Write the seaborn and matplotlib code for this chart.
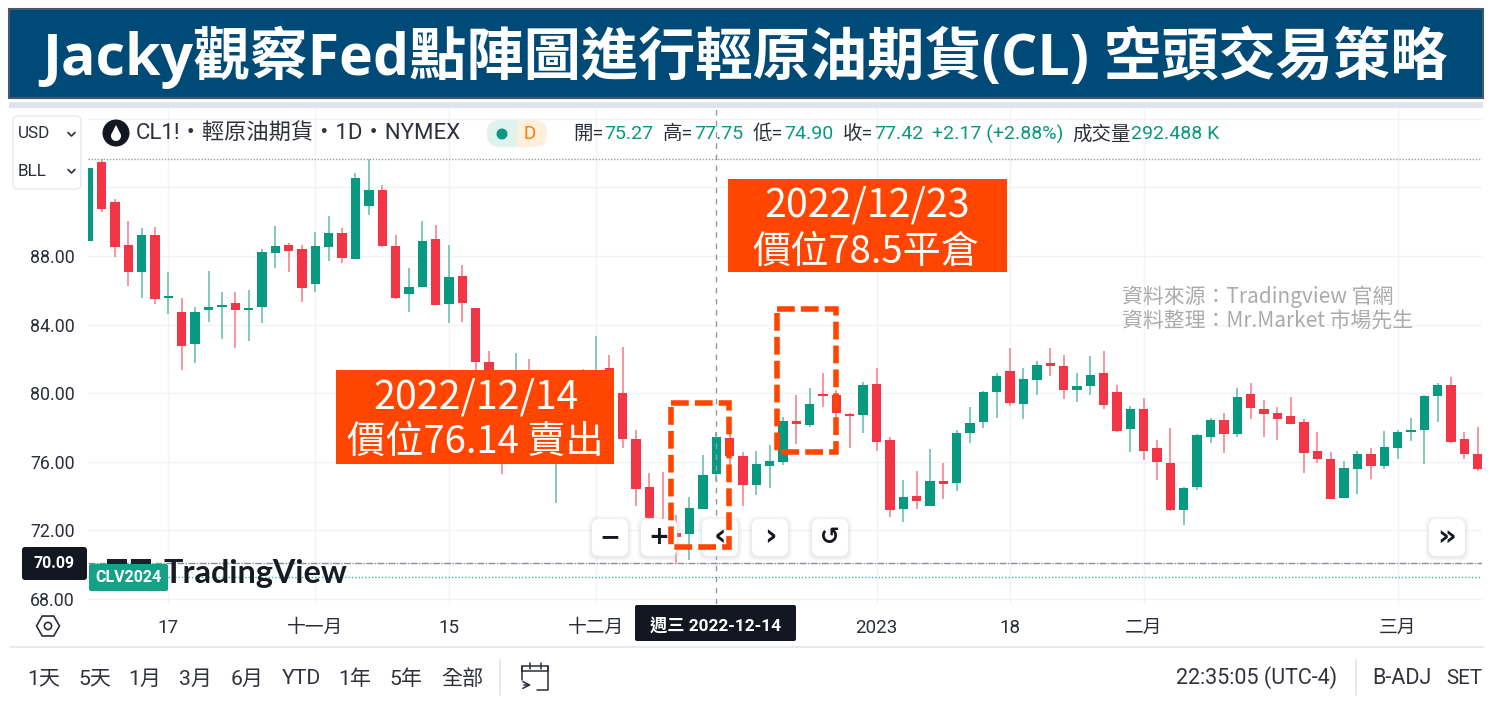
import matplotlib
matplotlib.use("Agg")
import matplotlib.pyplot as plt
from matplotlib.patches import Rectangle, FancyBboxPatch, Circle, RegularPolygon, Polygon
import numpy as np
import pandas as pd
import seaborn as sns

opens = [88.90,93.45,91.13,88.63,87.05,89.23,85.57,84.76,82.89,84.85,85.03,85.24,84.85,85.03,88.18,88.63,88.39,86.39,88.53,89.33,87.81,
         90.92,91.83,88.57,85.81,86.22,88.98,85.20,86.84,84.95,81.84,80.50,78.50,80.60,80.30,77.00,78.70,79.80,80.00,81.49,80.01,77.33,
         74.53,72.60,71.83,71.77,73.25,75.27,77.39,76.32,74.63,75.76,76.00,78.40,78.13,79.90,79.88,78.79,78.73,80.54,77.27,73.25,74.00,
         73.42,74.88,74.74,77.66,78.30,80.09,81.31,79.37,80.79,81.78,81.60,80.20,80.44,81.20,80.05,77.89,79.06,76.79,75.91,73.19,74.55,
         77.46,78.46,77.64,79.93,79.06,78.83,78.69,78.32,76.61,76.14,73.89,75.58,76.43,75.75,76.82,77.72,77.84,79.86,80.48,77.31,76.47]
highs = [93.15,93.64,91.30,90.04,89.64,89.70,87.07,85.54,85.01,87.13,85.88,85.88,86.00,88.39,89.75,88.74,88.63,89.40,90.34,89.62,92.82,
         93.68,92.12,89.21,87.30,90.04,89.81,88.63,87.50,84.95,82.44,81.10,82.32,81.97,81.00,81.10,81.00,81.39,83.34,82.23,82.68,77.86,
         75.37,75.43,72.90,73.97,76.40,77.75,77.66,76.55,76.63,76.98,78.63,79.88,80.31,81.20,80.20,78.83,80.67,81.49,77.43,74.94,75.48,
         76.73,75.91,77.85,79.18,80.13,81.20,82.62,81.49,81.90,82.62,82.21,81.20,82.15,82.46,80.48,79.23,79.70,77.27,77.99,74.51,77.60,
         78.57,78.83,80.28,80.61,79.58,79.18,79.76,78.51,77.74,76.57,76.03,76.61,76.80,77.81,77.85,78.57,79.87,80.61,80.96,77.74,78.05]
lows = [88.90,90.55,87.93,86.27,85.55,85.20,84.60,81.34,81.75,84.17,83.18,82.64,83.07,84.12,87.32,87.09,85.32,85.90,87.69,87.58,87.81,
        90.36,88.53,85.52,84.74,86.22,85.15,84.08,84.17,81.35,80.30,75.27,78.00,78.50,77.60,73.62,77.90,79.00,79.40,79.60,76.81,73.42,
        72.00,71.50,70.09,70.28,73.25,74.90,75.80,73.42,74.07,74.49,75.80,77.04,78.01,79.18,77.76,76.81,77.66,76.63,72.76,72.47,73.25,
        73.42,73.85,74.32,77.12,77.99,78.53,79.25,78.48,79.90,81.02,79.66,79.49,79.90,79.08,77.72,76.57,76.10,74.96,73.15,72.29,74.38,
        77.11,76.51,77.46,78.48,77.46,77.29,78.19,75.33,75.91,73.83,73.87,74.14,75.00,75.56,76.16,77.23,75.85,78.34,77.11,76.16,75.44]
closes = [93.15,90.74,88.55,87.05,89.23,85.50,85.65,82.78,84.76,85.01,85.13,84.85,84.95,88.22,88.57,88.30,86.16,88.57,89.33,87.89,92.53,
          91.83,88.59,85.55,86.20,88.86,85.15,86.78,85.28,81.82,80.60,78.60,80.50,79.00,78.20,78.80,80.40,81.00,81.35,80.00,77.35,74.43,
          72.70,71.90,71.60,73.29,75.25,77.42,76.34,74.63,75.85,76.03,78.40,78.19,79.35,79.82,78.85,78.65,80.48,77.18,73.19,73.93,73.73,
          74.88,74.69,77.68,78.26,80.05,81.00,79.43,80.83,81.66,81.59,80.20,80.42,81.06,79.31,77.78,79.06,76.65,75.99,73.19,74.47,77.56,
          78.46,77.64,79.76,79.14,78.77,78.48,78.22,76.51,76.16,73.83,75.66,76.43,75.75,76.84,77.74,77.85,79.84,80.48,77.17,76.47,75.58]

y_ticks = [68, 72, 76, 80, 84, 88, 92, 96]
y_labels = ["68.00", "72.00", "76.00", "80.00", "84.00", "88.00", "", ""]
x_ticks = [6, 17, 27, 38, 59, 69, 79, 98]
x_labels = ["17", "十一月", "15", "十二月", "2023", "18", "二月", "三月"]
last_high, last_low, clv_price = 93.65, 70.09, 69.29
crosshair_index = 47
range_buttons = ["1天", "5天", "1月", "3月", "6月", "YTD", "1年", "5年", "全部"]

sns.set_theme(style="white")
LATIN = ["Roboto", "Noto Sans CJK TC", "DejaVu Sans"]
CJK = ["Noto Sans CJK TC", "DejaVu Sans"]
plt.rcParams["font.family"] = LATIN

RED, GREEN = "#f23645", "#089981"
RED_W, GREEN_W = "#f5808b", "#66bfae"
ORANGE = "#ff4500"
INK = "#2a2e39"

df = pd.DataFrame({"i": np.arange(len(opens)), "o": opens, "h": highs, "l": lows, "c": closes})
df["up"] = df.c >= df.o
df["bot"] = df[["o", "c"]].min(axis=1)
df["size"] = (df.c - df.o).abs().clip(lower=0.12)

fig = plt.figure(figsize=(14.9, 7.07), dpi=100, facecolor="white")
ax = fig.add_axes([88 / 1490, (707 - 604) / 707, 1394 / 1490, 500 / 707])

# wicks
for up, wc in ((True, GREEN_W), (False, RED_W)):
    s = df[df.up == up]
    ax.vlines(s.i, s.l, s.h, color=wc, lw=1.15, zorder=2)
# bodies
for up, col in ((True, GREEN), (False, RED)):
    s = df[df.up == up].sort_values("i")
    sns.barplot(data=s, x="i", y="size", native_scale=True, color=col, saturation=1,
                width=0.7, gap=0, errorbar=None, bottom=s["bot"].values, ax=ax,
                linewidth=0, zorder=3)

ax.set_xlim(-0.02, 104.32)
ax.set_ylim(67.71, 96.86)
ax.set_xticks(x_ticks, x_labels)
ax.set_yticks(y_ticks, y_labels)
ax.set_xlabel("")
ax.set_ylabel("")
ax.grid(True, color="#f2f3f6", lw=1)
ax.set_axisbelow(True)
ax.tick_params(axis="y", length=0, pad=9.5, labelsize=12.8, labelcolor=INK)
ax.tick_params(axis="x", length=0, pad=11, labelsize=13.5, labelcolor=INK)
for lb in ax.get_xticklabels() + ax.get_yticklabels():
    lb.set_family(LATIN)
sns.despine(ax=ax, left=True, bottom=True)

ax.axhline(last_high, color="#9a9ea8", lw=1, ls=(0, (1, 1.2)), zorder=1)
ax.axhline(last_low, color="#8a8e98", lw=1, ls=(0, (5, 1, 1, 1)), zorder=1)
ax.axhline(clv_price, color=GREEN, lw=1, ls=(0, (1, 1.4)), alpha=.75, zorder=1)
ax.axvline(crosshair_index, color="#9598a1", lw=1, ls=(0, (4, 4)), zorder=4)

# overlay in pixel space for page furniture
ov = fig.add_axes([0, 0, 1, 1], facecolor="none")
ov.set_xlim(0, 1490)
ov.set_ylim(707, 0)
ov.axis("off")


def T(x, y, s, size=12, color=INK, ha="left", weight="normal", fam=LATIN, **kw):
    return ov.text(x, y, s, fontsize=size, color=color, ha=ha, va="center", weight=weight, family=fam, **kw)


def box(x0, y0, x1, y1, fc, ec="none", lw=0, r=0, z=2, alpha=None):
    if r:
        p = FancyBboxPatch((x0 + r, y0 + r), x1 - x0 - 2 * r, y1 - y0 - 2 * r,
                           boxstyle=f"round,pad={r},rounding_size={r}", fc=fc, ec=ec, lw=lw, zorder=z, alpha=alpha)
    else:
        p = Rectangle((x0, y0), x1 - x0, y1 - y0, fc=fc, ec=ec, lw=lw, zorder=z, alpha=alpha)
    ov.add_patch(p)
    return p


# banner
box(9, 9, 1483, 98, "#004a77", ec="#46586e", lw=1.5, z=5)
box(9, 102, 1483, 108, "#e0e3eb", z=1)
T(745, 57, "Jacky觀察Fed點陣圖進行輕原油期貨(CL) 空頭交易策略", size=41.2, color="white", ha="center",
  weight="bold", fam=["Open Sans", "Noto Sans CJK TC"], zorder=6)

# currency/unit box
box(13, 116, 81, 189, "white", ec="#e6e8ee", lw=1, r=5)
T(18, 134, "USD", 12.3)
T(18, 171, "BLL", 12.3)
for yy in (134, 171):
    ov.plot([68, 71.5, 75], [yy - 1.5, yy + 2, yy - 1.5], color=INK, lw=1.2, zorder=3)

# legend line
ov.add_patch(Circle((116, 133), 13.5, fc="#131722", ec="none", zorder=3))
ov.add_patch(Circle((116, 136), 5, fc="white", ec="none", zorder=4))
ov.add_patch(Polygon([(111.5, 134), (120.5, 134), (116, 125)], fc="white", ec="none", zorder=4))
T(136, 134, "CL1!・輕原油期貨・1D・NYMEX", 16, color="#2f323b")
box(487, 120, 530, 147, "#def3ee", r=13, z=2)
box(505, 120, 547, 147, "#fff0dd", r=13, z=3)
box(505, 120, 517, 147, "#def3ee", z=4)
box(517, 120, 530, 147, "#fff0dd", z=4)
ov.add_patch(Circle((502, 134), 5.5, fc=GREEN, ec="none", zorder=5))
T(530, 134, "D", 13.5, color="#ff7a00", ha="center", zorder=5)
for x, s, c in [(573, "開=", INK), (604, "75.27", GREEN), (663, "高=", INK), (694, "77.75", GREEN),
                (753, "低=", INK), (784, "74.90", GREEN), (843, "收=", INK), (874, "77.42", GREEN),
                (932, "+2.17 (+2.88%)", GREEN), (1072, "成交量", INK), (1131, "292.488 K", GREEN)]:
    T(x, 134, s, 14, color=c)

# watermark and price labels
ov.add_patch(Rectangle((107, 559), 20, 6, fc="#1b1f2a", ec="none", zorder=1))
ov.add_patch(Rectangle((131, 559), 20, 6, fc="#1b1f2a", ec="none", zorder=1))
T(164, 573, "TradingView", 23.3, color="#171b24", weight="bold", fam=["Lato", "DejaVu Sans"], zorder=1)
box(22, 547, 87, 580, "#131722", r=3, z=4)
T(54.5, 564, "70.09", 11.5, color="white", ha="center", weight="bold", zorder=5)
box(89, 564, 168, 591, "#16a085", r=2, z=4)
T(128.5, 577.5, "CLV2024", 11.5, color="white", ha="center", weight="bold", zorder=5)

# axis strip
ov.plot([10, 1483], [647, 647], color="#e3e6ec", lw=1.2, zorder=1)
ov.add_patch(RegularPolygon((48, 626), 6, radius=11.5, orientation=np.pi / 2, fc="none", ec=INK, lw=1.2))
ov.add_patch(Circle((48, 626), 3.6, fc="none", ec=INK, lw=1.2))
box(635, 605, 796, 641, "#131722", r=2, z=4)
T(715.5, 625, "週三 2022-12-14", 12.4, color="white", ha="center", weight="bold", zorder=5)

# bottom toolbar
for x, s in zip([44, 95, 145, 196, 247, 301, 355, 406, 462], range_buttons):
    T(x, 679, s, 15.2, ha="center", color="#2f323b")
ov.plot([500, 500], [660, 695], color="#e0e3eb", lw=1.2)
ov.plot([1356, 1356], [660, 695], color="#e0e3eb", lw=1.2)
ov.plot([522, 548, 548, 522, 522], [671, 671, 666, 666, 671], color=INK, lw=1.1)
ov.plot([548, 548, 537], [666, 690, 690], color=INK, lw=1.1)
ov.plot([522, 522], [666, 680], color=INK, lw=1.1)
ov.plot([530, 530], [663, 669], color=INK, lw=1.1)
ov.plot([541, 541], [663, 669], color=INK, lw=1.1)
ov.annotate("", xy=(534, 685), xytext=(521, 685), arrowprops=dict(arrowstyle="->", color=INK, lw=1.1))
T(1176, 678, "22:35:05 (UTC-4)", 15.5, color="#2f323b")
T(1372, 678, "B-ADJ", 15.5, color="#2f323b")
T(1446, 678, "SET", 14.8, color="#2f323b")

# orange call-outs
box(336, 370, 614, 464, ORANGE, z=6)
T(476, 397, "2022/12/14", 28.3, color="white", ha="center", fam=CJK, zorder=7)
T(475, 442, "價位76.14 賣出", 27.5, color="white", ha="center", fam=CJK, zorder=7)
box(728, 179, 1007, 272, ORANGE, z=6)
T(867, 206, "2022/12/23", 28.3, color="white", ha="center", fam=CJK, zorder=7)
T(866, 252, "價位78.5平倉", 27.5, color="white", ha="center", fam=CJK, zorder=7)

# source note
T(1122, 297, "資料來源：Tradingview 官網", 15, color="#ababab", fam=CJK)
T(1122, 322, "資料整理：Mr.Market 市場先生", 15, color="#ababab", fam=CJK)

# navigation buttons
for cx, s, size in [(610, "−", 18), (659, "+", 18), (720, "‹", 22), (770, "›", 22), (830, "↺", 17), (1447, "»", 21)]:
    for grow, a in ((4, .10), (2.5, .14), (1.2, .20)):
        box(cx - 18 - grow, 519 - grow + 1, cx + 18 + grow, 556 + grow + 1, "#c8cbd3", r=8, z=7, alpha=a)
    box(cx - 18, 519, cx + 18, 556, "white", r=7, z=8)
    T(cx, 537, s, size, color="#131722", ha="center", weight="bold", fam=["DejaVu Sans"], zorder=9)

# dashed highlight frames
for x0, y0, x1, y1 in [(671, 403, 729, 547), (777, 309, 836, 452)]:
    ov.add_patch(Rectangle((x0, y0), x1 - x0, y1 - y0, fc="none", ec=ORANGE, lw=4,
                           ls=(0, (3.2, 1.1)), zorder=10))

fig.savefig("out.png", dpi=100, facecolor="white")
